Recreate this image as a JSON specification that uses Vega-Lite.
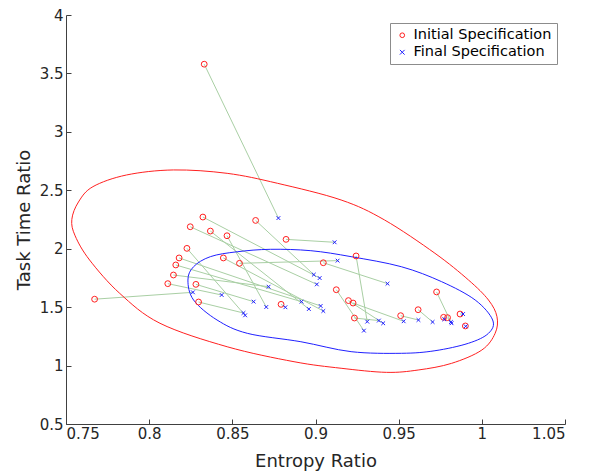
{
  "$schema": "https://vega.github.io/schema/vega-lite/v6.json",
  "width": 499,
  "height": 409,
  "autosize": {"type": "none"},
  "padding": {"left": 66, "top": 15, "right": 24, "bottom": 48},
  "background": "white",
  "config": {
    "view": {"stroke": null},
    "font": "DejaVu Sans",
    "axis": {
      "grid": false,
      "domainColor": "#404040",
      "tickColor": "#404040",
      "tickSize": -5,
      "labelColor": "#262626",
      "titleColor": "#262626",
      "labelFontSize": 15,
      "titleFontSize": 18,
      "titleFontWeight": "normal",
      "labelFont": "DejaVu Sans",
      "titleFont": "DejaVu Sans"
    },
    "legend": {
      "orient": "top-right",
      "offset": 8,
      "strokeColor": "#8c8c8c",
      "fillColor": "white",
      "padding": 5,
      "labelFontSize": 14.5,
      "labelFont": "DejaVu Sans",
      "labelColor": "#000000",
      "rowPadding": 2,
      "symbolSize": 22,
      "symbolStrokeWidth": 1
    }
  },
  "datasets": {
    "pairs": [
      {"ix": 0.7672, "iy": 1.568, "fx": 0.8263, "fy": 1.627},
      {"ix": 0.8331, "iy": 3.579, "fx": 0.8777, "fy": 2.262},
      {"ix": 0.8323, "iy": 2.271, "fx": 0.9025, "fy": 1.749},
      {"ix": 0.8247, "iy": 2.188, "fx": 0.9008, "fy": 1.695},
      {"ix": 0.8368, "iy": 2.151, "fx": 0.8960, "fy": 1.484},
      {"ix": 0.8468, "iy": 2.111, "fx": 0.8704, "fy": 1.501},
      {"ix": 0.8640, "iy": 2.242, "fx": 0.8990, "fy": 1.778},
      {"ix": 0.8823, "iy": 2.080, "fx": 0.9115, "fy": 2.055},
      {"ix": 0.8227, "iy": 2.003, "fx": 0.8577, "fy": 1.430},
      {"ix": 0.8180, "iy": 1.921, "fx": 0.9031, "fy": 1.510},
      {"ix": 0.8160, "iy": 1.861, "fx": 0.8916, "fy": 1.547},
      {"ix": 0.8146, "iy": 1.775, "fx": 0.8718, "fy": 1.675},
      {"ix": 0.8112, "iy": 1.701, "fx": 0.8436, "fy": 1.604},
      {"ix": 0.8281, "iy": 1.695, "fx": 0.8628, "fy": 1.547},
      {"ix": 0.8297, "iy": 1.544, "fx": 0.8567, "fy": 1.450},
      {"ix": 0.8446, "iy": 1.921, "fx": 0.9047, "fy": 1.467},
      {"ix": 0.8543, "iy": 1.875, "fx": 0.9133, "fy": 1.898},
      {"ix": 0.8793, "iy": 1.524, "fx": 0.8819, "fy": 1.499},
      {"ix": 0.9047, "iy": 1.880, "fx": 0.9433, "fy": 1.701},
      {"ix": 0.9125, "iy": 1.649, "fx": 0.9291, "fy": 1.299},
      {"ix": 0.9244, "iy": 1.938, "fx": 0.9311, "fy": 1.376},
      {"ix": 0.9198, "iy": 1.556, "fx": 0.9407, "fy": 1.362},
      {"ix": 0.9226, "iy": 1.535, "fx": 0.9530, "fy": 1.379},
      {"ix": 0.9234, "iy": 1.407, "fx": 0.9381, "fy": 1.385},
      {"ix": 0.9512, "iy": 1.427, "fx": 0.9619, "fy": 1.390},
      {"ix": 0.9617, "iy": 1.478, "fx": 0.9704, "fy": 1.373},
      {"ix": 0.9728, "iy": 1.630, "fx": 0.9814, "fy": 1.373},
      {"ix": 0.9770, "iy": 1.413, "fx": 0.9774, "fy": 1.396},
      {"ix": 0.9794, "iy": 1.410, "fx": 0.9818, "fy": 1.362},
      {"ix": 0.9869, "iy": 1.441, "fx": 0.9887, "fy": 1.441},
      {"ix": 0.9901, "iy": 1.339, "fx": 0.9903, "fy": 1.336}
    ],
    "ellipses": [
      {"e": "initial", "k": 0, "x": 0.7535, "y": 2.250},
      {"e": "initial", "k": 1, "x": 0.7575, "y": 2.400},
      {"e": "initial", "k": 2, "x": 0.7662, "y": 2.531},
      {"e": "initial", "k": 3, "x": 0.7864, "y": 2.631},
      {"e": "initial", "k": 4, "x": 0.8146, "y": 2.674},
      {"e": "initial", "k": 5, "x": 0.8469, "y": 2.645},
      {"e": "initial", "k": 6, "x": 0.8771, "y": 2.560},
      {"e": "initial", "k": 7, "x": 0.9154, "y": 2.417},
      {"e": "initial", "k": 8, "x": 0.9415, "y": 2.246},
      {"e": "initial", "k": 9, "x": 0.9718, "y": 1.961},
      {"e": "initial", "k": 10, "x": 0.9920, "y": 1.732},
      {"e": "initial", "k": 11, "x": 1.0040, "y": 1.561},
      {"e": "initial", "k": 12, "x": 1.0091, "y": 1.418},
      {"e": "initial", "k": 13, "x": 1.0080, "y": 1.276},
      {"e": "initial", "k": 14, "x": 1.0000, "y": 1.133},
      {"e": "initial", "k": 15, "x": 0.9818, "y": 1.019},
      {"e": "initial", "k": 16, "x": 0.9617, "y": 0.962},
      {"e": "initial", "k": 17, "x": 0.9426, "y": 0.942},
      {"e": "initial", "k": 18, "x": 0.9154, "y": 0.977},
      {"e": "initial", "k": 19, "x": 0.8871, "y": 1.033},
      {"e": "initial", "k": 20, "x": 0.8469, "y": 1.161},
      {"e": "initial", "k": 21, "x": 0.8065, "y": 1.362},
      {"e": "initial", "k": 22, "x": 0.7823, "y": 1.618},
      {"e": "initial", "k": 23, "x": 0.7642, "y": 1.903},
      {"e": "initial", "k": 24, "x": 0.7555, "y": 2.110},
      {"e": "final", "k": 0, "x": 0.8233, "y": 1.732},
      {"e": "final", "k": 1, "x": 0.8267, "y": 1.846},
      {"e": "final", "k": 2, "x": 0.8368, "y": 1.932},
      {"e": "final", "k": 3, "x": 0.8529, "y": 1.974},
      {"e": "final", "k": 4, "x": 0.8730, "y": 1.995},
      {"e": "final", "k": 5, "x": 0.8972, "y": 1.983},
      {"e": "final", "k": 6, "x": 0.9214, "y": 1.932},
      {"e": "final", "k": 7, "x": 0.9516, "y": 1.846},
      {"e": "final", "k": 8, "x": 0.9758, "y": 1.718},
      {"e": "final", "k": 9, "x": 0.9960, "y": 1.561},
      {"e": "final", "k": 10, "x": 1.0065, "y": 1.390},
      {"e": "final", "k": 11, "x": 1.0040, "y": 1.276},
      {"e": "final", "k": 12, "x": 0.9920, "y": 1.191},
      {"e": "final", "k": 13, "x": 0.9718, "y": 1.127},
      {"e": "final", "k": 14, "x": 0.9516, "y": 1.105},
      {"e": "final", "k": 15, "x": 0.9214, "y": 1.119},
      {"e": "final", "k": 16, "x": 0.8912, "y": 1.204},
      {"e": "final", "k": 17, "x": 0.8590, "y": 1.276},
      {"e": "final", "k": 18, "x": 0.8408, "y": 1.390},
      {"e": "final", "k": 19, "x": 0.8267, "y": 1.561}
    ]
  },
  "layer": [
    {
      "data": {"name": "pairs"},
      "mark": {"type": "rule", "color": "#a9cfa4", "strokeWidth": 1},
      "encoding": {
        "x": {"field": "ix", "type": "quantitative", "scale": {"domain": [0.75, 1.05], "nice": false, "zero": false},
              "axis": {"values": [0.75, 0.8, 0.85, 0.9, 0.95, 1, 1.05], "format": "~g", "title": "Entropy Ratio", "labelPadding": 7, "titlePadding": 11}},
        "y": {"field": "iy", "type": "quantitative", "scale": {"domain": [0.5, 4], "nice": false, "zero": false},
              "axis": {"values": [0.5, 1, 1.5, 2, 2.5, 3, 3.5, 4], "format": "~g", "title": "Task Time Ratio", "labelPadding": 8, "titlePadding": 6}},
        "x2": {"field": "fx"},
        "y2": {"field": "fy"}
      }
    },
    {
      "data": {"name": "ellipses"},
      "transform": [{"filter": "datum.e === 'initial'"}],
      "mark": {"type": "line", "color": "#ff2020", "strokeWidth": 1, "interpolate": "cardinal-closed"},
      "encoding": {
        "x": {"field": "x", "type": "quantitative"},
        "y": {"field": "y", "type": "quantitative"},
        "order": {"field": "k", "type": "quantitative"}
      }
    },
    {
      "data": {"name": "ellipses"},
      "transform": [{"filter": "datum.e === 'final'"}],
      "mark": {"type": "line", "color": "#2020ff", "strokeWidth": 1, "interpolate": "cardinal-closed"},
      "encoding": {
        "x": {"field": "x", "type": "quantitative"},
        "y": {"field": "y", "type": "quantitative"},
        "order": {"field": "k", "type": "quantitative"}
      }
    },
    {
      "data": {"name": "pairs"},
      "mark": {"type": "point", "filled": false, "strokeWidth": 1, "size": 34, "opacity": 1},
      "encoding": {
        "x": {"field": "ix", "type": "quantitative"},
        "y": {"field": "iy", "type": "quantitative"},
        "color": {"datum": "Initial Specification", "type": "nominal",
                  "scale": {"domain": ["Initial Specification", "Final Specification"], "range": ["#ff2020", "#2020ff"]},
                  "legend": {"title": null}},
        "shape": {"datum": "Initial Specification", "type": "nominal",
                  "scale": {"domain": ["Initial Specification", "Final Specification"], "range": ["circle", "M-1,-1L1,1M-1,1L1,-1"]},
                  "legend": {"title": null}}
      }
    },
    {
      "data": {"name": "pairs"},
      "mark": {"type": "point", "filled": false, "strokeWidth": 1, "size": 14, "opacity": 1},
      "encoding": {
        "x": {"field": "fx", "type": "quantitative"},
        "y": {"field": "fy", "type": "quantitative"},
        "color": {"datum": "Final Specification", "type": "nominal"},
        "shape": {"datum": "Final Specification", "type": "nominal"}
      }
    }
  ]
}
